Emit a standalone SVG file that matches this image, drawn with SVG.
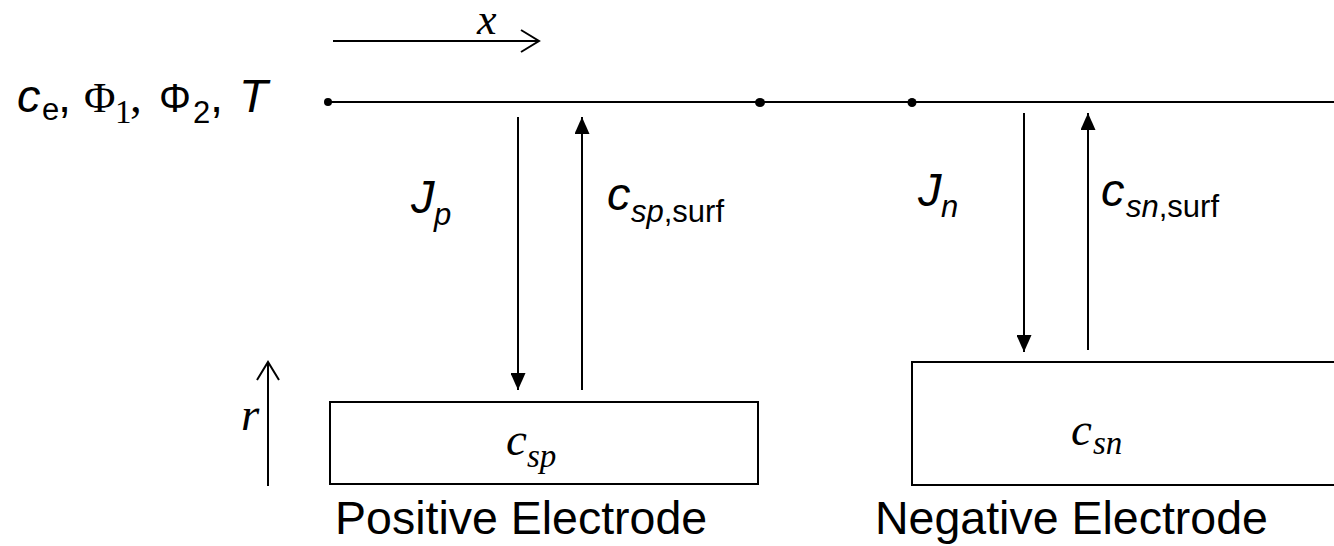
<svg xmlns="http://www.w3.org/2000/svg" width="1334" height="546" viewBox="0 0 1334 546">
<style>
  .ln{stroke:#000;stroke-width:2;fill:none}
  .box{stroke:#000;stroke-width:2;fill:#fff}
  .sans{font-family:"Liberation Sans",Arial,sans-serif;fill:#000}
  .serif{font-family:"Liberation Serif","Times New Roman",serif;fill:#000}
  .big{font-size:47px}
  .sub{font-size:31px}
  .cap{font-size:46.5px}
  .it{font-style:italic}
</style>
<defs>
  <marker id="fa" viewBox="0 0 17 15" refX="17" refY="7.5" markerWidth="17" markerHeight="15" markerUnits="userSpaceOnUse" orient="auto">
    <path d="M0,0 L17,7.5 L0,15 z" fill="#000"/>
  </marker>
  <marker id="oa" viewBox="-2 -2 22 26" refX="18" refY="11" markerWidth="22" markerHeight="26" markerUnits="userSpaceOnUse" orient="auto" overflow="visible">
    <path d="M0,0 L18,11 L0,22" fill="none" stroke="#000" stroke-width="2"/>
  </marker>
</defs>
<rect width="1334" height="546" fill="#fff"/>

<g id="state-label">
  <text class="sans big it" x="17" y="112">c</text>
  <text class="sans sub" x="42" y="120">e</text>
  <text class="sans big" x="58" y="112">,</text>
  <text class="serif" font-size="43" x="84" y="112">Φ</text>
  <text class="serif" font-size="33" x="115" y="123">1</text>
  <text class="serif big" x="130" y="112">,</text>
  <text class="sans" font-size="40" x="159" y="112">Φ</text>
  <text class="sans sub" x="193" y="123">2</text>
  <text class="sans big" x="210" y="112">,</text>
  <text class="sans big it" x="239" y="112">T</text>
</g>

<g id="x-axis">
  <line class="ln" x1="333" y1="41" x2="539" y2="41" marker-end="url(#oa)"/>
  <text class="serif it" font-size="44" x="477" y="34">x</text>
</g>

<g id="r-axis">
  <line class="ln" x1="268" y1="486" x2="268" y2="362" marker-end="url(#oa)"/>
  <text class="serif big it" x="241" y="430">r</text>
</g>

<g id="positive-particle">
  <rect class="box" x="330" y="402" width="428" height="82"/>
  <text class="serif big it" x="506" y="455">c</text>
  <text class="serif it" font-size="33" x="527" y="467">sp</text>
  <text class="sans cap" x="335" y="534">Positive Electrode</text>
</g>

<g id="negative-particle">
  <rect class="box" x="912" y="362" width="440" height="123"/>
  <text class="serif big it" x="1071" y="445">c</text>
  <text class="serif it" font-size="33" x="1093" y="454">sn</text>
  <text class="sans cap" x="875" y="534">Negative Electrode</text>
</g>

<g id="connectors">
  <line class="ln" x1="328" y1="102" x2="1334" y2="102"/>
  <circle cx="328" cy="102" r="4" fill="#000"/>
  <ellipse cx="760" cy="102.5" rx="5" ry="4.5" fill="#000"/>
  <circle cx="912" cy="102.5" r="4.5" fill="#000"/>

  <line class="ln" x1="518" y1="117" x2="518" y2="390" marker-end="url(#fa)"/>
  <line class="ln" x1="582" y1="390" x2="582" y2="117" marker-end="url(#fa)"/>
  <line class="ln" x1="1024" y1="113" x2="1024" y2="352" marker-end="url(#fa)"/>
  <line class="ln" x1="1088" y1="350" x2="1088" y2="113" marker-end="url(#fa)"/>

  <text class="sans big it" x="411" y="213">J</text>
  <text class="sans sub it" x="434" y="225">p</text>
  <text class="sans big it" x="607" y="210">c</text>
  <text class="sans sub" x="631" y="222"><tspan font-style="italic">sp</tspan>,surf</text>

  <text class="sans big it" x="918" y="206">J</text>
  <text class="sans sub it" x="941" y="217">n</text>
  <text class="sans big it" x="1101" y="206">c</text>
  <text class="sans sub" x="1126" y="217"><tspan font-style="italic">sn</tspan>,surf</text>
</g>
</svg>
